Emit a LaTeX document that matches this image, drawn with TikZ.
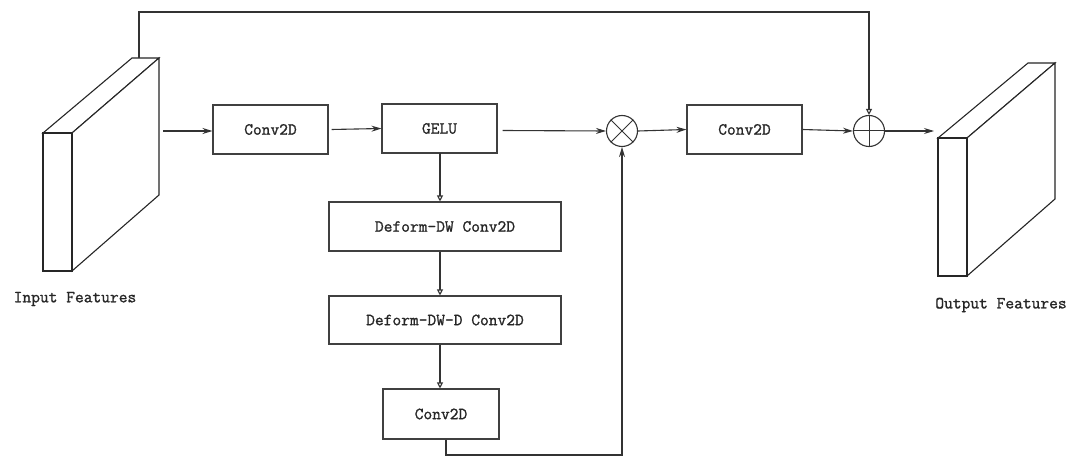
\documentclass[tikz,border=0pt]{standalone}
\usepackage{fontspec}
\newfontfamily\boxfont{Latin Modern Mono}[AutoFakeBold=1.2]
\usetikzlibrary{arrows.meta}
\begin{document}
\begin{tikzpicture}[x=1pt,y=-1pt,
  lbl/.style={font=\boxfont\bfseries\fontsize{17}{19}\selectfont, text=black!85},
  blk/.style={draw=black!75, line width=1.1pt, inner sep=0pt, lbl},
  ln/.style={draw=black!80, line width=1.1pt},
  arr/.style={ln, -{Stealth[length=10pt,width=6pt]}},
  oarr/.style={ln, -{Triangle[open,length=6pt,width=6pt]}},
  face/.style={draw=black!85, line width=1.1pt, fill=white}]
\useasboundingbox (0,0) rectangle (1079,465);
% input block
\draw[face] (43,133) -- (132,58) -- (159,58) -- (72,133) -- cycle;
\draw[face] (72,133) -- (159,58) -- (159,195) -- (72,271) -- cycle;
\draw[face] (43,133) rectangle (72,271);
\coordinate (inR) at (163,131);
\coordinate (inTop) at (139,58);
\node[lbl, anchor=center] (inlab) at (75,299) {Input Features};
% output block
\draw[face] (938,138) -- (1028,63) -- (1055,63) -- (967,138) -- cycle;
\draw[face] (967,138) -- (1055,63) -- (1055,199) -- (967,276) -- cycle;
\draw[face] (938,138) rectangle (967,276);
\coordinate (outL) at (934,131);
\node[lbl, anchor=center] (outlab) at (1001,305) {Output Features};
% boxes
\node[blk, minimum width=115pt, minimum height=49pt] (c1) at (270.5,129.5) {Conv2D};
\node[blk, minimum width=115pt, minimum height=49pt] (gelu) at (439.5,128.5) {GELU};
\node[blk, minimum width=232pt, minimum height=49pt] (d1) at (445,226.5) {Deform-DW Conv2D};
\node[blk, minimum width=232pt, minimum height=48pt] (d2) at (445,320) {Deform-DW-D Conv2D};
\node[blk, minimum width=116pt, minimum height=50pt] (c2) at (441,414) {Conv2D};
\node[blk, minimum width=115pt, minimum height=49pt] (c3) at (744.5,129.5) {Conv2D};
% operators
\node[draw=black!80, line width=1.1pt, circle, minimum size=31pt, inner sep=0pt] (mul) at (622,131) {};
\draw[black!80, line width=1pt] (mul.north west) -- (mul.south east) (mul.north east) -- (mul.south west);
\node[draw=black!80, line width=1.1pt, circle, minimum size=31pt, inner sep=0pt] (add) at (869,131) {};
\draw[black!80, line width=1pt] (add.north) -- (add.south) (add.west) -- (add.east);
% connectors
\draw[arr] (inR) -- (inR -| c1.west);
\draw[arr] ([xshift=3pt]c1.east) -- (gelu.west);
\draw[arr] ([xshift=5pt,yshift=-2pt]gelu.east) -- (mul.west);
\draw[arr] (mul.east) -- (c3.west);
\draw[arr] (c3.east) -- (add.west);
\draw[arr] (add.east) -- (outL);
\draw[oarr] (440,153) coordinate (g1) -- (g1 |- d1.north);
\draw[oarr] (d1.south -| g1) -- (d2.north -| g1);
\draw[oarr] (d2.south -| g1) -- (c2.north -| g1);
\coordinate (b2) at (622,455);
\draw[arr] ([xshift=5pt]c2.south) |- (b2) -- (mul.south);
\coordinate (t1) at (139,12);
\coordinate (t2) at (869,12);
\draw[oarr] (inTop) -- (t1) -- (t2) -- (add.north);
\end{tikzpicture}
\end{document}
